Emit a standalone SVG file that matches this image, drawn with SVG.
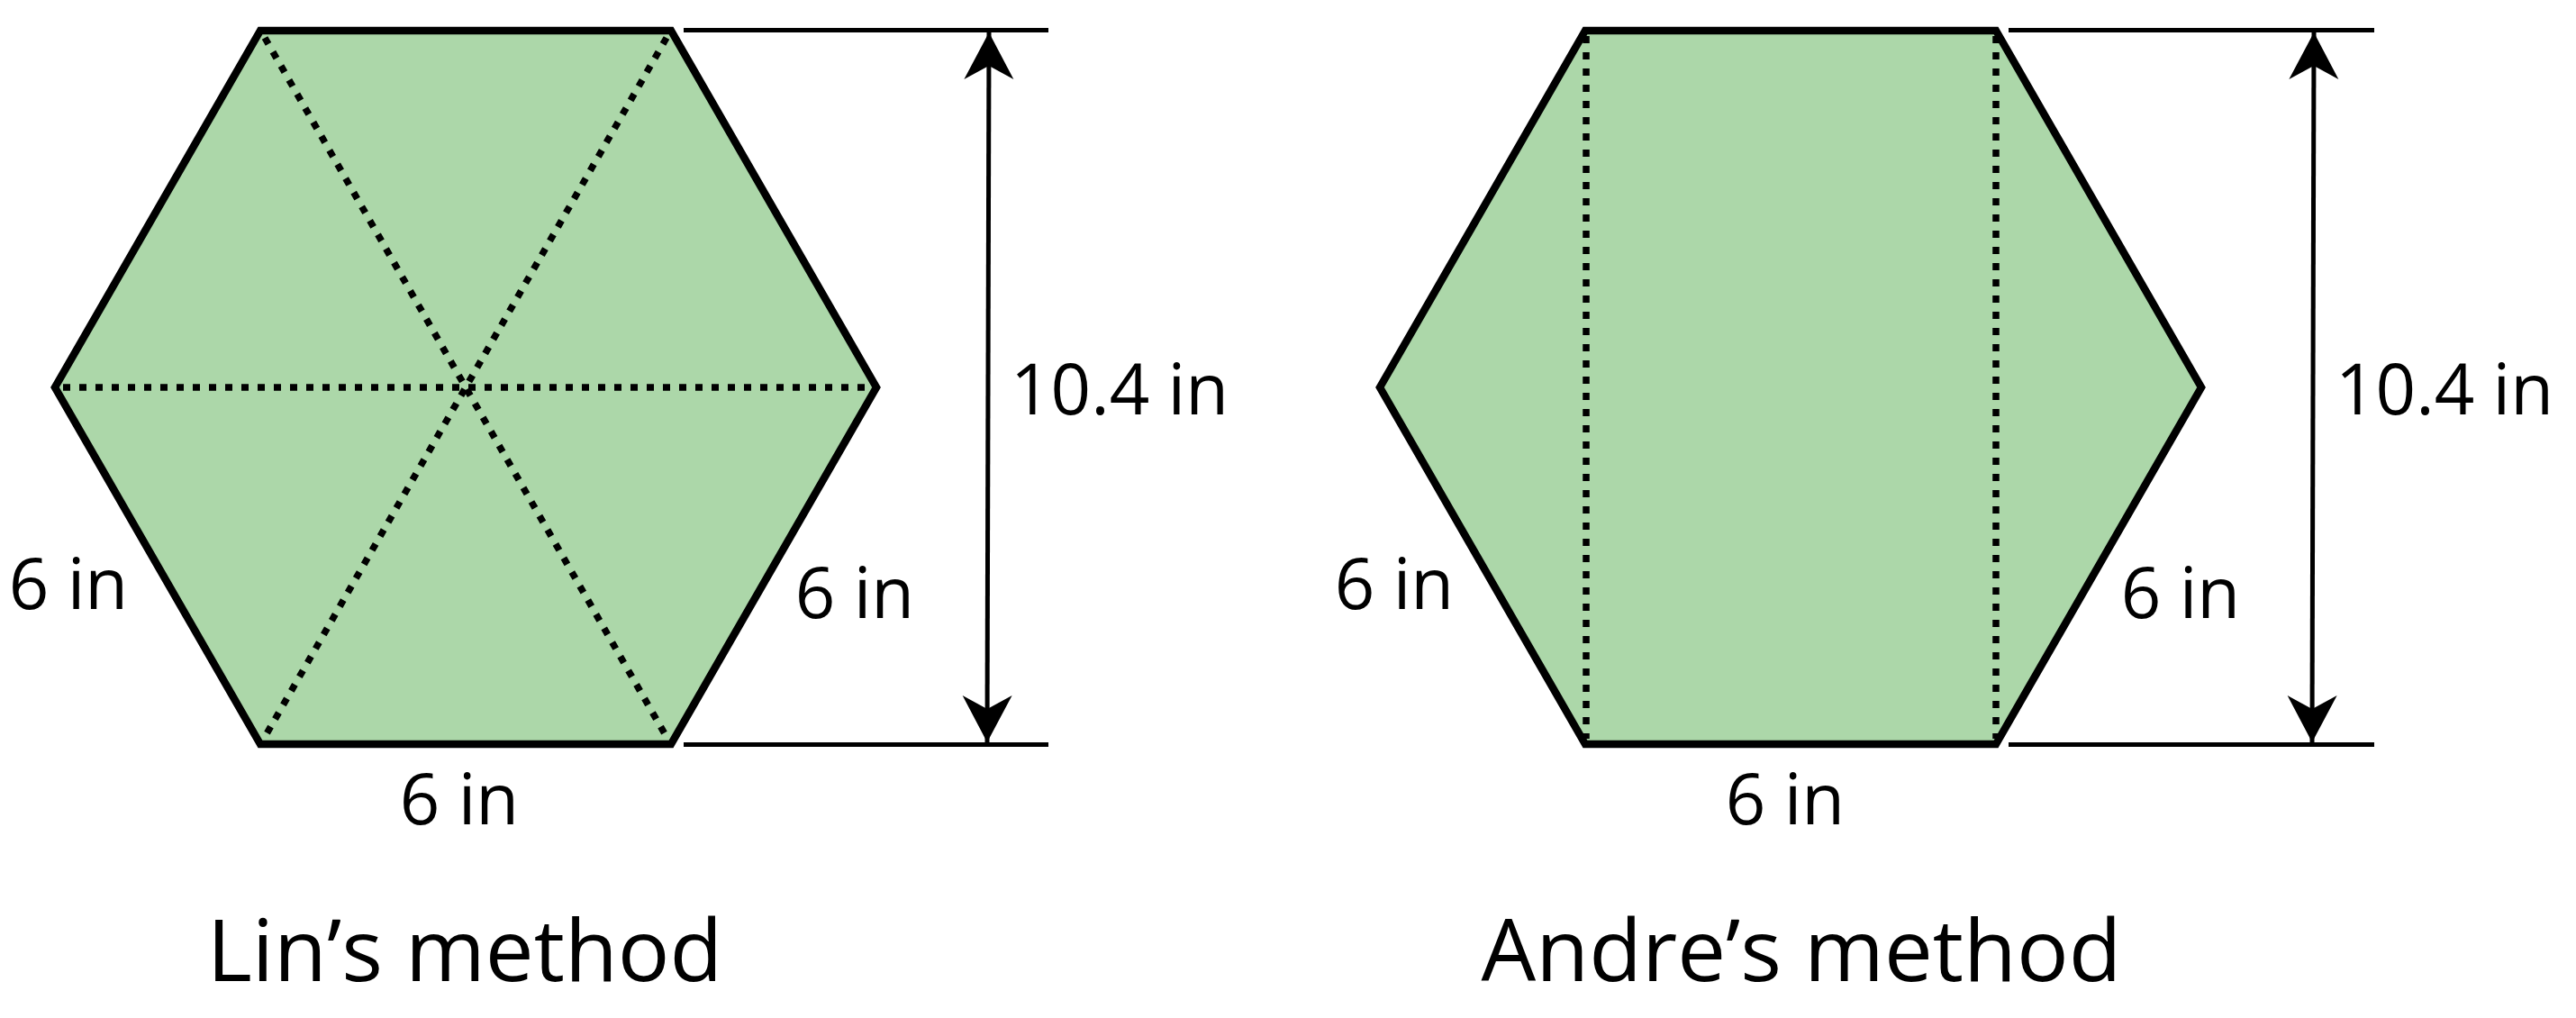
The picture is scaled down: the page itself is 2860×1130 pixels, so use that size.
<svg xmlns="http://www.w3.org/2000/svg" width="2860" height="1130" viewBox="0 0 2860 1130">
  <style>
    .hex { fill: #acd7a9; stroke: #000; stroke-width: 8.5; stroke-linejoin: miter; }
    .dot { fill: none; stroke: #000; stroke-width: 7.5; stroke-dasharray: 8 10; }
    .dim { fill: none; stroke: #000; stroke-width: 5; }
    .arr { fill: none; stroke: #000; stroke-width: 5; marker-start: url(#ah); marker-end: url(#ah); }
    .lbl { font-family: "Open Sans", "Noto Sans", "Liberation Sans", sans-serif; font-size: 78px; fill: #000; text-anchor: middle; }
    .ttl { font-family: "Open Sans", "Noto Sans", "Liberation Sans", sans-serif; font-size: 96px; fill: #000; text-anchor: middle; }
  </style>
  <defs>
    <marker id="ah" viewBox="-56 -30 60 60" refX="0" refY="0" markerWidth="60" markerHeight="60" markerUnits="userSpaceOnUse" orient="auto-start-reverse">
      <path d="M0,0 L-52,-27.5 L-37,0 L-52,27.5 Z" fill="#000"/>
    </marker>
  </defs>
  <rect width="2860" height="1130" fill="#fff"/>

  <g id="lin-hexagon">
    <polygon class="hex" points="289,34 745,34 973,430 745,826 289,826 61,430"/>
    <line class="dot" x1="294" y1="42" x2="740" y2="818"/>
    <line class="dot" x1="740" y1="42" x2="294" y2="818"/>
    <line class="dot" x1="70" y1="430" x2="966" y2="430"/>
  </g>

  <g id="andre-hexagon">
    <polygon class="hex" points="1760,34 2216,34 2444,430 2216,826 1760,826 1532,430"/>
    <line class="dot" x1="1761" y1="40" x2="1761" y2="820"/>
    <line class="dot" x1="2216" y1="40" x2="2216" y2="820"/>
  </g>

  <g id="connectors">
    <line class="dim" x1="759" y1="33.5" x2="1164" y2="33.5"/>
    <line class="dim" x1="759" y1="826.5" x2="1164" y2="826.5"/>
    <line class="arr" x1="1098" y1="36" x2="1096" y2="824"/>
    <line class="dim" x1="2230" y1="33.5" x2="2636" y2="33.5"/>
    <line class="dim" x1="2230" y1="826.5" x2="2636" y2="826.5"/>
    <line class="arr" x1="2569" y1="36" x2="2567" y2="824"/>
  </g>

  <g id="lin-labels">
    <text class="lbl" x="76" y="676">6 in</text>
    <text class="lbl" x="949" y="686">6 in</text>
    <text class="lbl" x="510" y="915">6 in</text>
    <text class="lbl" x="1243" y="460">10.4 in</text>
    <text class="ttl" x="516" y="1089">Lin’s method</text>
  </g>

  <g id="andre-labels">
    <text class="lbl" x="1548" y="676">6 in</text>
    <text class="lbl" x="2421" y="686">6 in</text>
    <text class="lbl" x="1982" y="915">6 in</text>
    <text class="lbl" x="2714" y="460">10.4 in</text>
    <text class="ttl" x="2000" y="1089">Andre’s method</text>
  </g>
</svg>
